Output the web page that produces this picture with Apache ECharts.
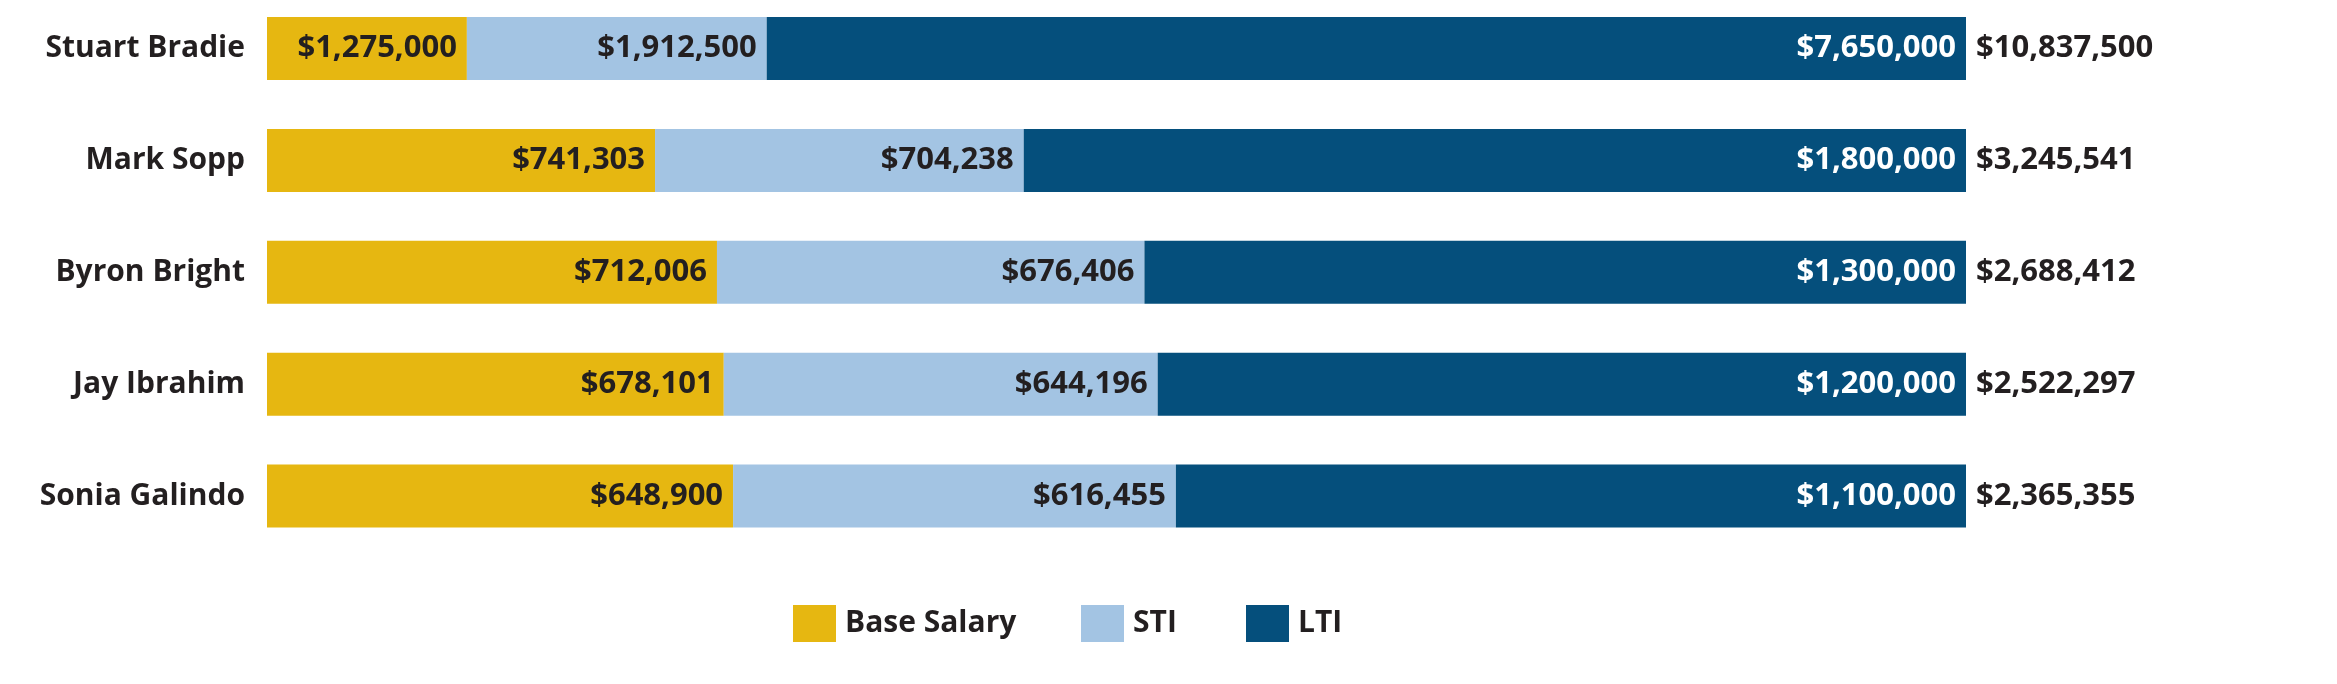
<!DOCTYPE html>
<html>
<head>
<meta charset="utf-8">
<script src="https://cdn.jsdelivr.net/npm/echarts@6/dist/echarts.min.js"></script>
<style>
html,body{margin:0;padding:0;background:#fff;}
#chart{width:2337px;height:684px;}
</style>
</head>
<body>
<div id="chart"></div>
<script>
var categories = ['Stuart Bradie', 'Mark Sopp', 'Byron Bright', 'Jay Ibrahim', 'Sonia Galindo'];
var baseSalary = [1275000, 741303, 712006, 678101, 648900];
var sti = [1912500, 704238, 676406, 644196, 616455];
var lti = [7650000, 1800000, 1300000, 1200000, 1100000];
var totals = [10837500, 3245541, 2688412, 2522297, 2365355];
var seriesNames = ['Base Salary', 'STI', 'LTI'];

function money(v){ return '$' + Number(v).toLocaleString('en-US'); }
function pct(arr){ return arr.map(function(v,i){ return v / totals[i] * 100; }); }

var FONT = '"Open Sans"';
var FW = 'bold';
var FS = 30;
var VS = 31;
var TXT = '#231F20';
var chart = echarts.init(document.getElementById('chart'));

function barSeries(name, raw, color, textColor){
  return {
    name: name, type: 'bar', stack: 'total', barWidth: 63, clip: false,
    itemStyle: { color: color },
    label: {
      show: true, position: 'insideRight', distance: 10,
      color: textColor, fontFamily: FONT, fontWeight: FW, fontSize: VS,
      formatter: function(p){ return money(raw[p.dataIndex]); }
    },
    emphasis: { disabled: true },
    data: pct(raw)
  };
}

var legendLefts = [788, 1076, 1241];
var legends = seriesNames.map(function(n, i){
  return {
    data: [n], top: 600, left: legendLefts[i], itemWidth: 43, itemHeight: 37,
    icon: 'rect', selectedMode: false,
    textStyle: { color: TXT, fontFamily: FONT, fontWeight: FW, fontSize: 30, padding: [0,0,0,4] }
  };
});

chart.setOption({
  animation: false,
  grid: { left: 267, right: 371, top: 48.5, height: 447.5 },
  xAxis: { type: 'value', min: 0, max: 100, show: false },
  yAxis: {
    type: 'category', data: categories, inverse: true, boundaryGap: false,
    axisLine: { show: false }, axisTick: { show: false }, splitLine: { show: false },
    axisLabel: { margin: 22, color: TXT, fontFamily: FONT, fontWeight: FW, fontSize: FS }
  },
  legend: legends,
  series: [
    barSeries('Base Salary', baseSalary, '#E6B711', TXT),
    barSeries('STI', sti, '#A3C4E3', TXT),
    barSeries('LTI', lti, '#054F7C', '#FFFFFF'),
    {
      name: 'Total', type: 'scatter', symbolSize: 0, silent: true, clip: false,
      itemStyle: { color: TXT, opacity: 1 },
      label: {
        show: true, position: 'right', distance: 10,
        color: TXT, fontFamily: FONT, fontWeight: FW, fontSize: VS,
        formatter: function(p){ return money(totals[p.dataIndex]); }
      },
      data: categories.map(function(c){ return [100, c]; })
    }
  ]
});
</script>
</body>
</html>
